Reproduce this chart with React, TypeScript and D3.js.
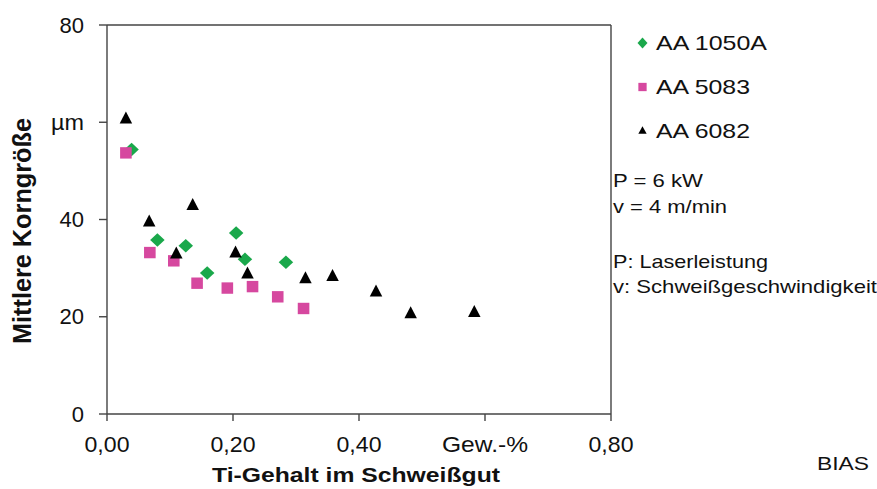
import React from "react";
import * as d3 from "d3";

const W = 877;
const H = 489;

const xTicks = [0, 0.2, 0.4, 0.6, 0.8];
const xTickLabels = ["0,00", "0,20", "0,40", "Gew.-%", "0,80"];
const yTicks = [0, 20, 40, 60, 80];
const yTickLabels = ["0", "20", "40", "µm", "80"];

const aa1050X = [0.039, 0.080, 0.125, 0.159, 0.205, 0.219, 0.284];
const aa1050Y = [54.4, 35.8, 34.6, 29.0, 37.2, 31.8, 31.2];

const aa5083X = [0.030, 0.068, 0.106, 0.143, 0.191, 0.231, 0.271, 0.312];
const aa5083Y = [53.7, 33.2, 31.5, 26.9, 25.9, 26.2, 24.1, 21.7];

const aa6082X = [0.030, 0.067, 0.110, 0.136, 0.204, 0.223, 0.315, 0.358, 0.427, 0.482, 0.583];
const aa6082Y = [61.0, 39.8, 33.2, 43.2, 33.4, 29.1, 28.1, 28.6, 25.4, 20.9, 21.2];

const seriesNames = ["AA 1050A", "AA 5083", "AA 6082"];
const notes = ["P = 6 kW", "v = 4 m/min", "P: Laserleistung", "v: Schweißgeschwindigkeit"];

const GREEN = "#1aa84b";
const MAGENTA = "#d6489f";
const BLACK = "#000000";
const FONT = "'Liberation Sans', Arial, sans-serif";

function diamondType(w: number, h: number) {
  return {
    draw(ctx: any) {
      ctx.moveTo(0, -h / 2);
      ctx.lineTo(w / 2, 0);
      ctx.lineTo(0, h / 2);
      ctx.lineTo(-w / 2, 0);
      ctx.closePath();
    },
  };
}
function squareType(w: number, h: number) {
  return {
    draw(ctx: any) {
      ctx.rect(-w / 2, -h / 2, w, h);
    },
  };
}
function triangleType(w: number, h: number) {
  return {
    draw(ctx: any) {
      ctx.moveTo(0, -h / 2);
      ctx.lineTo(w / 2, h / 2);
      ctx.lineTo(-w / 2, h / 2);
      ctx.closePath();
    },
  };
}

export default function App() {
  const left = 107, right = 611, top = 25, bottom = 414;
  const x = d3.scaleLinear().domain([0, 0.8]).range([left, right]);
  const y = d3.scaleLinear().domain([0, 80]).range([bottom, top]);

  const series = [
    { name: seriesNames[0], xs: aa1050X, ys: aa1050Y, color: GREEN, type: diamondType(14.5, 13.5), ltype: diamondType(10, 11), lw: 111 },
    { name: seriesNames[1], xs: aa5083X, ys: aa5083Y, color: MAGENTA, type: squareType(11.6, 11.4), ltype: squareType(8.3, 8.3), lw: 94 },
    { name: seriesNames[2], xs: aa6082X, ys: aa6082Y, color: BLACK, type: triangleType(12.5, 12), ltype: triangleType(8.3, 7.5), lw: 94 },
  ];
  const legendY = [43, 87, 130];
  const legendBase = [50, 94, 138];

  const noteBase = [187, 213, 268, 293];
  const noteW = [90, 114, 155, 264];

  const xLabelW = [45, 45, 45, 86, 45];

  const axisColor = "#444";

  return (
    <svg width={W} height={H} style={{ position: "absolute", left: 0, top: 0, background: "#fff" }} fontFamily={FONT}>
      <rect width={W} height={H} fill="#fff" />
      <line x1={left} x2={right} y1={top} y2={top} stroke={axisColor} strokeWidth={1.4} />
      <line x1={right} x2={right} y1={top} y2={bottom} stroke={axisColor} strokeWidth={1.4} />
      <line x1={left} x2={left} y1={top} y2={bottom} stroke={axisColor} strokeWidth={1.4} />
      <line x1={left} x2={right} y1={bottom} y2={bottom} stroke={axisColor} strokeWidth={1.4} />
      {yTicks.map((t, i) => (
        <g key={"y" + i}>
          <line x1={left - 8} x2={left} y1={y(t)} y2={y(t)} stroke={axisColor} strokeWidth={1.4} />
          <text x={84} y={y(t) + 7.5} textAnchor="end" fontSize={22} fill="#111"
            {...(yTickLabels[i] === "µm" ? { textLength: 33, lengthAdjust: "spacingAndGlyphs" } : {})}>{yTickLabels[i]}</text>
        </g>
      ))}
      {xTicks.map((t, i) => (
        <g key={"x" + i}>
          <line x1={x(t)} x2={x(t)} y1={bottom} y2={bottom + 7} stroke={axisColor} strokeWidth={1.4} />
          <text x={x(t) - xLabelW[i] / 2} y={452} fontSize={22} fill="#111" textLength={xLabelW[i]} lengthAdjust="spacingAndGlyphs">{xTickLabels[i]}</text>
        </g>
      ))}
      <text x={212} y={482} fontSize={21} fontWeight="bold" fill="#111" textLength={288} lengthAdjust="spacingAndGlyphs">Ti-Gehalt im Schweißgut</text>
      <text transform={`translate(31,344) rotate(-90)`} fontSize={25} fontWeight="bold" fill="#111" textLength={226} lengthAdjust="spacingAndGlyphs">Mittlere Korngröße</text>

      {series.map((s) => (
        <g key={s.name}>
          {s.xs.map((v, i) => (
            <path key={i} d={d3.symbol().type(s.type as any)() || ""} transform={`translate(${x(v)},${y(s.ys[i])})`} fill={s.color} />
          ))}
        </g>
      ))}

      {series.map((s, i) => (
        <g key={"lg" + i}>
          <path d={d3.symbol().type(s.ltype as any)() || ""} transform={`translate(642.5,${legendY[i]})`} fill={s.color} />
          <text x={656} y={legendBase[i]} fontSize={21} fill="#111" textLength={s.lw} lengthAdjust="spacingAndGlyphs">{s.name}</text>
        </g>
      ))}

      {notes.map((n, i) => (
        <text key={"n" + i} x={613} y={noteBase[i]} fontSize={17.7} fill="#111" textLength={noteW[i]} lengthAdjust="spacingAndGlyphs">{n}</text>
      ))}

      <text x={817} y={470} fontSize={18.5} fill="#111" textLength={52} lengthAdjust="spacingAndGlyphs">BIAS</text>
    </svg>
  );
}
